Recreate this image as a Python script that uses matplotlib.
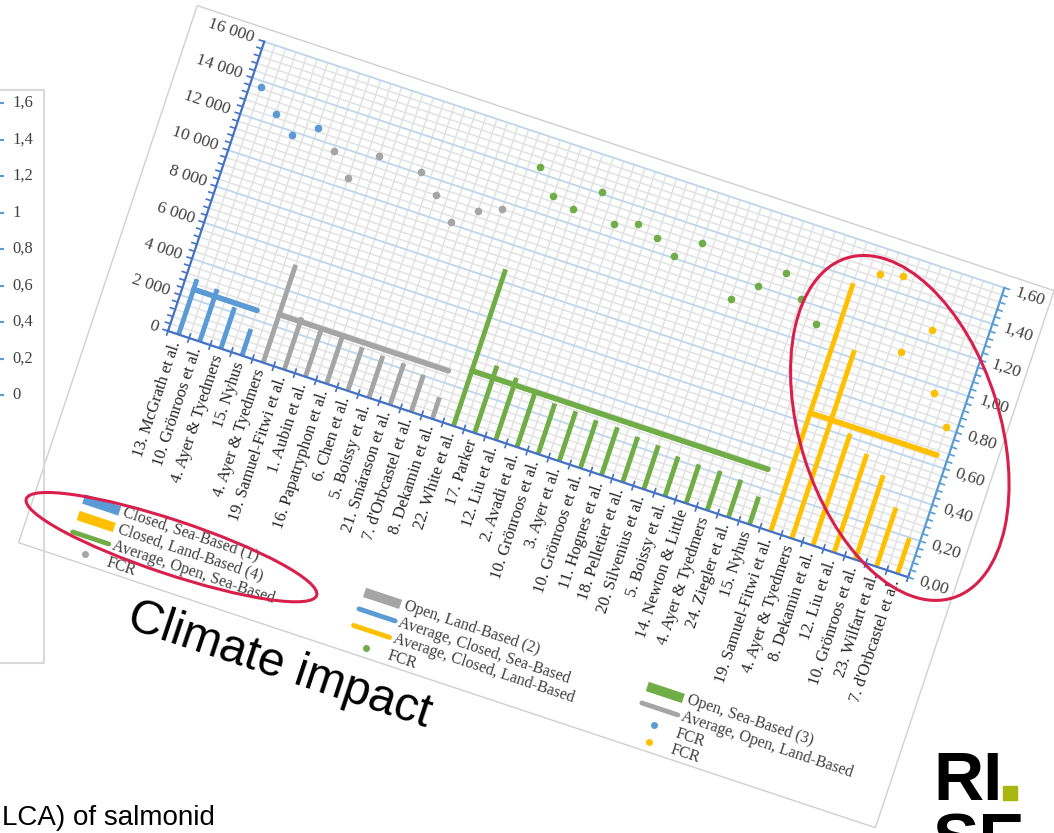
import numpy as np
import matplotlib.pyplot as plt
from matplotlib.transforms import Affine2D
from matplotlib.patches import Ellipse, Polygon, Rectangle

# klimatpåverkan (kg CO2e per ton) och FCR per studie, ordnat efter odlingssystem
cs_names = ["13. McGrath et al.", "10. Grönroos et al.", "4. Ayer & Tyedmers", "15. Nyhus"]
cs_ghg = [3060, 2900, 2280, 1470]
cs_fcr = [1.37, 1.26, 1.18, 1.26]
cs_avg = 2500

ol_names = ["4. Ayer & Tyedmers", "19. Samuel-Fitwi et al.", "1. Aubin et al.",
            "16. Papatryphon et al.", "6. Chen et al.", "5. Boissy et al.",
            "21. Smárason et al.", "7. d'Orbcastel et al.", "8. Dekamin et al."]
ol_ghg = [5410, 2890, 2640, 2560, 2400, 2320, 2300, 2050, 1190]
ol_fcr = [1.17, 1.06, 1.22, np.nan, 1.21, 1.12, 1.01, 1.11, 1.16]
ol_avg = 2660

os_names = ["22. White et al.", "17. Parker", "12. Liu et al.", "2. Avadi et al.",
            "10. Grönroos et al.", "3. Ayer et al.", "10. Grönroos et al.",
            "11. Hognes et al.", "18. Pelletier et al.", "20. Silvenius et al.",
            "5. Boissy et al.", "14. Newton & Little", "4. Ayer & Tyedmers",
            "24. Ziegler et al.", "15. Nyhus"]
os_ghg = [8660, 3720, 3440, 3170, 2790, 2750, 2650, 2650, 2510, 2430, 2200, 2150, 2180, 2080, 1530]
os_fcr = [1.43, 1.31, 1.28, 1.41, 1.27, 1.31, 1.27, 1.21, 1.32, np.nan, 1.09, 1.20, 1.31, 1.21, 1.11]
os_avg = 3050

cl_names = ["19. Samuel-Fitwi et al.", "4. Ayer & Tyedmers", "8. Dekamin et al.",
            "12. Liu et al.", "10. Grönroos et al.", "23. Wilfart et al.",
            "7. d'Orbcastel et al."]
cl_ghg = [13730, 10420, 6190, 5450, 4660, 3270, 1960]
cl_fcr = [np.nan, 1.46, 1.49, 1.11, 1.27, 0.96, 0.81]
cl_avg = 6560

# det andra diagrammet som syns i vänsterkanten
left_ticks = [1.6, 1.4, 1.2, 1.0, 0.8, 0.6, 0.4, 0.2, 0.0]

blue, grey, green, orange = "#5B9BD5", "#A5A5A5", "#70AD47", "#FFC000"
groups = [
    (cs_names, cs_ghg, cs_fcr, cs_avg, blue),
    (ol_names, ol_ghg, ol_fcr, ol_avg, grey),
    (os_names, os_ghg, os_fcr, os_avg, green),
    (cl_names, cl_ghg, cl_fcr, cl_avg, orange),
]
names = cs_names + ol_names + os_names + cl_names
ncat = len(names)
ymax, y2max = 16000, 1.6

fig = plt.figure(figsize=(10.54, 8.33), dpi=100)
ax = fig.add_axes([0, 0, 1, 1])
ax.set_xlim(0, 1054)
ax.set_ylim(833, 0)
ax.set_autoscale_on(False)
ax.axis("off")

# diagrammet ligger snett på bilden
ang = 18.4
c, s = np.cos(np.radians(ang)), np.sin(np.radians(ang))
W, H = 780, 305
px = Affine2D.from_values(c, s, s, -c, 168, 331) + ax.transData
tr = Affine2D().scale(W / ncat, H / ymax) + px
tr2 = Affine2D().scale(W / ncat, H / y2max) + px
rot = -ang
serif = "Liberation Serif"

# ram runt diagrambilden
ax.add_patch(Polygon([(-75, -248), (828, -248), (828, 318), (-75, 318)], closed=True,
                     fill=False, ec="#D0D0D0", lw=1.0, transform=px))

# rutnät
ax.vlines(np.arange(0, ncat + 0.01, 0.5), 0, ymax, transform=tr, color="#E2E2E2", lw=1.1, zorder=1)
ax.hlines(np.arange(0, ymax + 1, 400), 0, ncat, transform=tr, color="#E2E2E2", lw=1.1, zorder=1)
ax.hlines(np.arange(0, ymax + 1, 2000), 0, ncat, transform=tr, color="#BDD7EE", lw=1.2, zorder=1.5)

# axlar och skalstreck
ax.plot([0, 0], [0, ymax], transform=tr, color="#4472C4", lw=1.6, zorder=6)
ax.plot([0, ncat], [0, 0], transform=tr, color="#4472C4", lw=1.6, zorder=6)
ax.plot([ncat, ncat], [0, y2max], transform=tr2, color=blue, lw=1.6, zorder=6)
ax.hlines(np.arange(0, ymax + 1, 400) * H / ymax, -6, 0, transform=px, color="#4472C4", lw=1.2, zorder=6)
ax.vlines(np.arange(ncat + 1) * W / ncat, -5, 5, transform=px, color="#4472C4", lw=1.2, zorder=6)
ax.hlines(np.arange(0, 41) * 0.04 * H / y2max, W, W + 6, transform=px, color=blue, lw=1.2, zorder=6)

for v in range(0, ymax + 1, 2000):
    ax.text(-11, v * H / ymax, f"{v:,}".replace(",", " "), transform=px, rotation=rot,
            rotation_mode="anchor", ha="right", va="center", fontsize=12.5, family=serif, color="#404040")
for v in np.arange(0, 9) * 0.2:
    ax.text(W + 12, v * H / y2max, f"{v:.2f}".replace(".", ","), transform=px, rotation=rot,
            rotation_mode="anchor", ha="left", va="center", fontsize=12.5, family=serif, color="#404040")
for i, nm in enumerate(names):
    ax.text((i + 0.5) * W / ncat, -7, nm, transform=px, rotation=90 + rot, rotation_mode="anchor",
            ha="right", va="center", fontsize=12, family=serif, color="#262626")

# staplar, medelvärden och FCR
start = 0
for nm, ghg, fcr, avg, col in groups:
    pos = np.arange(start, start + len(nm)) + 0.5
    ax.bar(pos, ghg, width=0.22, color=col, transform=tr, zorder=3)
    ax.plot([pos[0], pos[-1]], [avg, avg], transform=tr, color=col, lw=4,
            solid_capstyle="round", zorder=4)
    ax.plot(pos, fcr, "o", ms=4.5, color=col, transform=tr2, zorder=5)
    start += len(nm)

# förklaring, tre kolumner
legend_cols = [
    [("bar", blue, "Closed, Sea-Based (1)"), ("bar", orange, "Closed, Land-Based (4)"),
     ("avg", green, "Average, Open, Sea-Based"), ("dot", grey, "FCR")],
    [("bar", grey, "Open, Land-Based (2)"), ("avg", blue, "Average, Closed, Sea-Based"),
     ("avg", orange, "Average, Closed, Land-Based"), ("dot", green, "FCR")],
    [("bar", green, "Open, Sea-Based (3)"), ("avg", grey, "Average, Open, Land-Based"),
     ("dot", blue, "FCR"), ("dot", orange, "FCR")],
]
for x0, col_items in zip([-27, 269, 567], legend_cols):
    for r, (kind, col, txt) in enumerate(col_items):
        y0 = -186 - 17.4 * r
        if kind == "bar":
            ax.plot([x0, x0 + 38], [y0, y0], transform=px, color=col, lw=7, solid_capstyle="butt")
        elif kind == "avg":
            ax.plot([x0, x0 + 38], [y0, y0], transform=px, color=col, lw=3.5, solid_capstyle="round")
        else:
            ax.plot([x0 + 19], [y0], "o", transform=px, color=col, ms=4)
        ax.text(x0 + 42, y0, txt, transform=px, rotation=rot, rotation_mode="anchor",
                ha="left", va="center", fontsize=11.5, family=serif, color="#404040")

# röda markeringar
red = "#D91F4C"
ax.add_patch(Ellipse((71.5, -204), 306, 54, angle=0, transform=px, fill=False, ec=red, lw=2.2, zorder=8))
ax.add_patch(Ellipse((725, 139), 356, 200, angle=-54.2, transform=px, fill=False, ec=red, lw=2.2, zorder=8))

# övrigt på bilden
ax.text(125, 628, "Climate impact", fontsize=34.5, family="Liberation Sans", rotation=rot,
        rotation_mode="anchor", ha="left", va="baseline", color="black")
ax.text(2, 825, "LCA) of salmonid", fontsize=20, family="Liberation Sans", ha="left", va="baseline")

ys = [395 - v * 292 / 1.6 for v in left_ticks]
ax.hlines(ys, 0, 4, color=blue, lw=1.5)
for v, y in zip(left_ticks, ys):
    ax.text(12, y, f"{v:g}".replace(".", ","), ha="left", va="center", fontsize=12,
            family=serif, color="#404040")
ax.plot([-1, 44, 44, -1], [90, 90, 663, 663], color="#D9D9D9", lw=1.5)

# logga
logo_font = ["Liberation Sans Narrow", "Liberation Sans"]
ax.text(933, 800, "RI", fontsize=50, weight="bold", family=logo_font, ha="left", va="baseline")
ax.text(933, 862, "SE", fontsize=50, weight="bold", family=logo_font, ha="left", va="baseline")
ax.add_patch(Rectangle((1003, 786), 14, 14, color="#A9B60F"))

fig.savefig("out.png", dpi=100)
